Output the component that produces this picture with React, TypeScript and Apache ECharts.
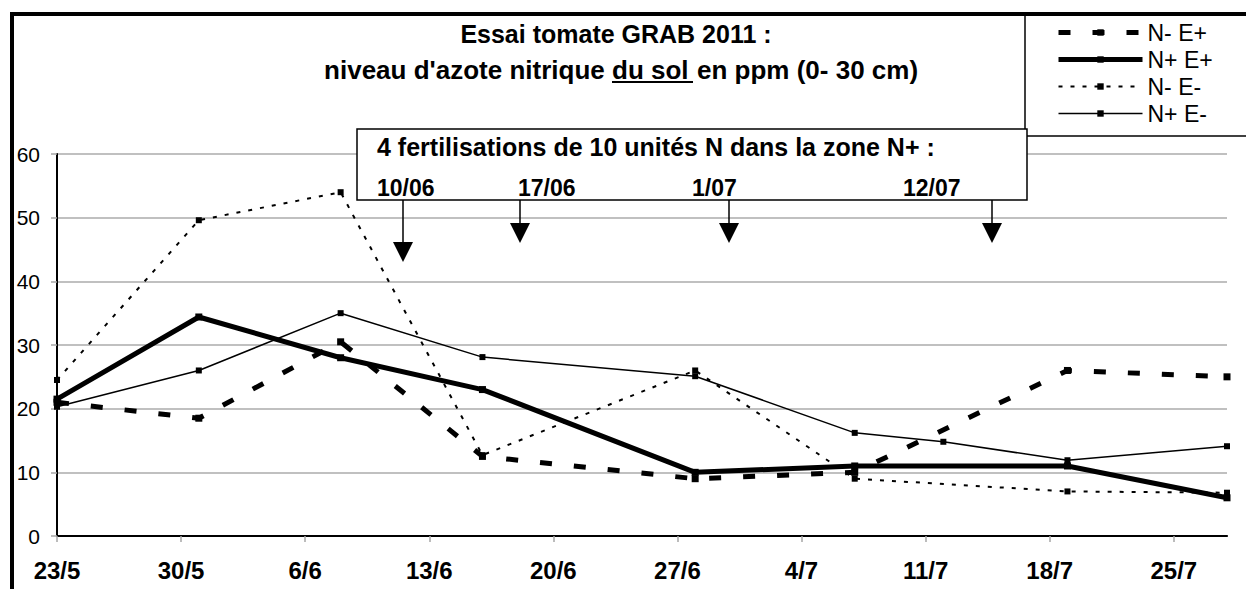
import React, { useEffect, useRef } from "react";
import * as echarts from "echarts";

const START_DATE = "2011-05-23";
const END_DATE = "2011-07-28";
const tickDates = ["2011-05-23", "2011-05-30", "2011-06-06", "2011-06-13", "2011-06-20", "2011-06-27", "2011-07-04", "2011-07-11", "2011-07-18", "2011-07-25"];
const tickLabels = ["23/5", "30/5", "6/6", "13/6", "20/6", "27/6", "4/7", "11/7", "18/7", "25/7"];
const sampleDates = ["2011-05-23", "2011-05-31", "2011-06-08", "2011-06-16", "2011-06-28", "2011-07-07", "2011-07-19", "2011-07-28"];
const sampleDatesNPlusEMoins = ["2011-05-23", "2011-05-31", "2011-06-08", "2011-06-16", "2011-06-28", "2011-07-07", "2011-07-12", "2011-07-19", "2011-07-28"];
const seriesNames = ["N- E+", "N+ E+", "N- E-", "N+ E-"];
const nMoinsEPlus = [21, 18.5, 30.5, 12.5, 9, 10, 26, 25];
const nPlusEPlus = [21.5, 34.4, 28, 23, 10, 11, 11, 6];
const nMoinsEMoins = [24.5, 49.6, 54, 12.7, 26, 9, 7, 6.8];
const nPlusEMoins = [20.3, 26, 35, 28.1, 25.1, 16.2, 14.8, 11.9, 14.1];
const fertilisationDates = ["10/06", "17/06", "1/07", "12/07"];
const titleLine1 = "Essai tomate GRAB 2011 :";
const titleLine2 = ["niveau d'azote nitrique ", "du sol ", "en ppm (0- 30 cm)"];
const annotationText = "4 fertilisations de 10 unités N dans la zone N+ :";

const DAY = 86400000;
const dayOffset = (d: string) => Math.round((Date.parse(d) - Date.parse(START_DATE)) / DAY);
const FONT = "'Liberation Sans', Arial, sans-serif";

export default function App() {
  const ref = useRef<HTMLDivElement>(null);
  useEffect(() => {
    document.body.style.margin = "0";
    if (!ref.current) return;
    const chart = echarts.init(ref.current, undefined, { renderer: "svg" });
    const tickOffsets = tickDates.map(dayOffset);
    const labelFor = (v: number) => {
      const i = tickOffsets.indexOf(Math.round(v));
      return i >= 0 ? tickLabels[i] : "";
    };
    const pts = (dates: string[], vals: number[]) => vals.map((v, i) => [dayOffset(dates[i]), v]);

    const arrowXs = [403, 520, 729, 992];
    const arrowEnds = [262, 243, 243, 243];
    const dateXs = [377, 518, 692, 903];
    const graphics: any[] = [];
    // outer frame
    graphics.push({ type: "line", z: 60, shape: { x1: 10, y1: 14, x2: 1246, y2: 14 }, style: { stroke: "#000", lineWidth: 4 } });
    graphics.push({ type: "line", z: 60, shape: { x1: 12, y1: 12, x2: 12, y2: 589 }, style: { stroke: "#000", lineWidth: 4 } });
    // legend box
    graphics.push({ type: "line", z: 60, shape: { x1: 1025, y1: 14, x2: 1025, y2: 136 }, style: { stroke: "#000", lineWidth: 1.5 } });
    graphics.push({ type: "line", z: 60, shape: { x1: 1025, y1: 136, x2: 1246, y2: 136 }, style: { stroke: "#000", lineWidth: 1.5 } });
    // title
    graphics.push({ type: "text", z: 60, x: 616, y: 34, style: { text: titleLine1, font: `bold 25px ${FONT}`, fill: "#000", align: "center", verticalAlign: "middle" } });
    const t2x = [612, 612, 697];
    const t2align = ["right", "left", "left"];
    titleLine2.forEach((t, i) => {
      graphics.push({ type: "text", z: 60, x: t2x[i], y: 70, style: { text: t, font: `bold 26px ${FONT}`, fill: "#000", align: t2align[i], verticalAlign: "middle" } });
    });
    graphics.push({ type: "line", z: 60, shape: { x1: 612, y1: 82, x2: 693, y2: 82 }, style: { stroke: "#000", lineWidth: 2 } });
    // annotation box
    graphics.push({ type: "rect", z: 60, shape: { x: 357, y: 129, width: 670, height: 71 }, style: { fill: "#fff", stroke: "#000", lineWidth: 1.5 } });
    graphics.push({ type: "text", z: 61, x: 377, y: 147, style: { text: annotationText, font: `bold 25px ${FONT}`, fill: "#000", align: "left", verticalAlign: "middle" } });
    fertilisationDates.forEach((d, i) => {
      graphics.push({ type: "text", z: 61, x: dateXs[i], y: 188, style: { text: d, font: `bold 23px ${FONT}`, fill: "#000", align: "left", verticalAlign: "middle" } });
      const x = arrowXs[i];
      const e = arrowEnds[i];
      graphics.push({ type: "line", z: 61, shape: { x1: x, y1: 200, x2: x, y2: e - 18 }, style: { stroke: "#000", lineWidth: 1.5 } });
      graphics.push({ type: "polygon", z: 61, shape: { points: [[x - 10, e - 20], [x + 10, e - 20], [x, e]] }, style: { fill: "#000" } });
    });

    const base = { type: "line", symbol: "rect", animation: false, itemStyle: { color: "#000" } };
    const option: any = {
      animation: false,
      textStyle: { fontFamily: FONT },
      grid: { left: 57, right: 19, top: 154, bottom: 53 },
      legend: {
        orient: "vertical",
        left: 1056,
        top: 21,
        itemWidth: 84,
        itemHeight: 8,
        itemGap: 4,
        padding: 0,
        data: seriesNames,
        textStyle: { fontSize: 23, color: "#000", fontFamily: FONT },
        lineStyle: { width: "inherit" },
      },
      xAxis: [
        {
          type: "value",
          min: 0,
          max: dayOffset(END_DATE),
          interval: 7,
          axisLine: { show: true, lineStyle: { color: "#a6a6a6", width: 2 } },
          axisTick: { show: true, length: 6, lineStyle: { color: "#a6a6a6", width: 1.5 }, customValues: tickOffsets },
          axisLabel: { customValues: tickOffsets, formatter: labelFor, fontSize: 24, fontWeight: "bold", color: "#000", margin: 22, fontFamily: FONT },
          splitLine: { show: false },
        },
        {
          type: "value",
          position: "top",
          min: 0,
          max: dayOffset(END_DATE),
          axisLine: { show: true, lineStyle: { color: "#000", width: 2 } },
          axisTick: { show: false },
          axisLabel: { show: false },
          splitLine: { show: false },
        },
      ],
      yAxis: [
        {
          type: "value",
          min: 0,
          max: 60,
          interval: 10,
          axisLine: { show: true, lineStyle: { color: "#a6a6a6", width: 2 } },
          axisTick: { show: true, length: 6, lineStyle: { color: "#a6a6a6", width: 1.5 } },
          axisLabel: { fontSize: 21, color: "#000", margin: 17, fontFamily: FONT },
          splitLine: { show: true, lineStyle: { color: "#c0c0c0", width: 2 } },
        },
        {
          type: "value",
          position: "right",
          min: 0,
          max: 60,
          axisLine: { show: true, lineStyle: { color: "#000", width: 2 } },
          axisTick: { show: false },
          axisLabel: { show: false },
          splitLine: { show: false },
        },
      ],
      series: [
        { ...base, name: seriesNames[0], symbolSize: 7, data: pts(sampleDates, nMoinsEPlus), lineStyle: { color: "#000", width: 5, type: [12, 22] } },
        { ...base, name: seriesNames[1], symbolSize: 7, data: pts(sampleDates, nPlusEPlus), lineStyle: { color: "#000", width: 5 } },
        { ...base, name: seriesNames[2], symbolSize: 6, data: pts(sampleDates, nMoinsEMoins), lineStyle: { color: "#000", width: 2, type: [4, 8] } },
        { ...base, name: seriesNames[3], symbolSize: 6, data: pts(sampleDatesNPlusEMoins, nPlusEMoins), lineStyle: { color: "#000", width: 1.5 } },
      ],
      graphic: graphics,
    };
    chart.setOption(option);
    return () => chart.dispose();
  }, []);
  return <div ref={ref} style={{ width: 1246, height: 589 }} />;
}
